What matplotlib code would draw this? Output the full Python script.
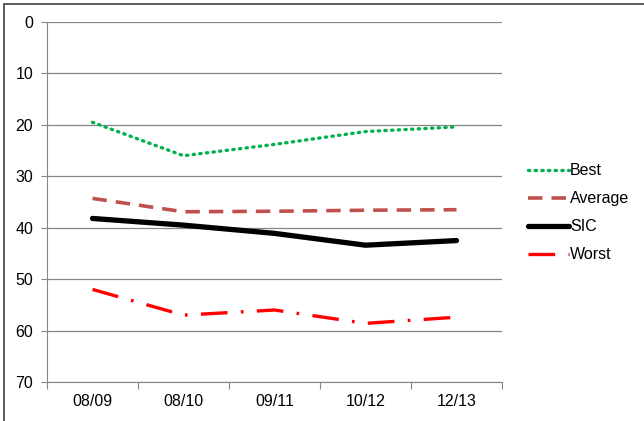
import matplotlib.pyplot as plt
from matplotlib.patches import Rectangle

plt.rcParams['font.family'] = ['Liberation Sans', 'DejaVu Sans']

seasons = ["08/09", "08/10", "09/11", "10/12", "12/13"]
best = [19.5, 26.0, 23.8, 21.3, 20.4]
average = [34.3, 36.9, 36.8, 36.6, 36.5]
sic = [38.2, 39.5, 41.1, 43.4, 42.5]
worst = [52.0, 57.0, 56.0, 58.6, 57.4]

fig = plt.figure(figsize=(6.44, 4.21), dpi=100)
ax = fig.add_axes([47 / 644, 1 - 382 / 421, 455 / 644, 360 / 421])

x = range(len(seasons))
ax.plot(x, best, color="#00B050", lw=2.4, ls=(0, (0.4, 1.6)), dash_capstyle="round", label="Best")
ax.plot(x, average, color="#C0504D", lw=2.6, ls=(0, (4, 2.5)), label="Average")
ax.plot(x, sic, color="black", lw=3.8, solid_capstyle="round", label="SIC")
ax.plot(x, worst, color="#FF0000", lw=2.4, ls=(0, (8, 4, 0.8, 4)), label="Worst")

ax.set_xlim(-0.5, len(seasons) - 0.5)
ax.set_ylim(70, 0)
ax.set_yticks(range(0, 71, 10))
ax.set_xticks([i - 0.5 for i in range(len(seasons) + 1)], minor=False)
ax.set_xticklabels([])
ax.set_xticks(list(x), minor=True)
ax.set_xticklabels(seasons, minor=True)
ax.tick_params(axis="x", which="minor", length=0, labelsize=11.5, pad=9)
ax.tick_params(axis="x", which="major", length=5, color="#868686")
ax.tick_params(axis="y", length=4, color="#868686", labelsize=11.5, pad=6)
ax.grid(axis="y", color="#868686", lw=0.9)
ax.set_axisbelow(True)
for side in ["top", "right"]:
    ax.spines[side].set_visible(False)
for side in ["left", "bottom"]:
    ax.spines[side].set_color("#868686")

ax.legend(loc="center left", bbox_to_anchor=(1.025, 0.47), frameon=False,
          fontsize=11.5, handlelength=2.6, labelspacing=0.82, handletextpad=0.05)

fig.patches.append(Rectangle((4 / 644, -0.1), 1.2, 1.1 - 4 / 421, transform=fig.transFigure,
                             fill=False, edgecolor="#404040", lw=1.2))

fig.savefig("out.png", dpi=100)
